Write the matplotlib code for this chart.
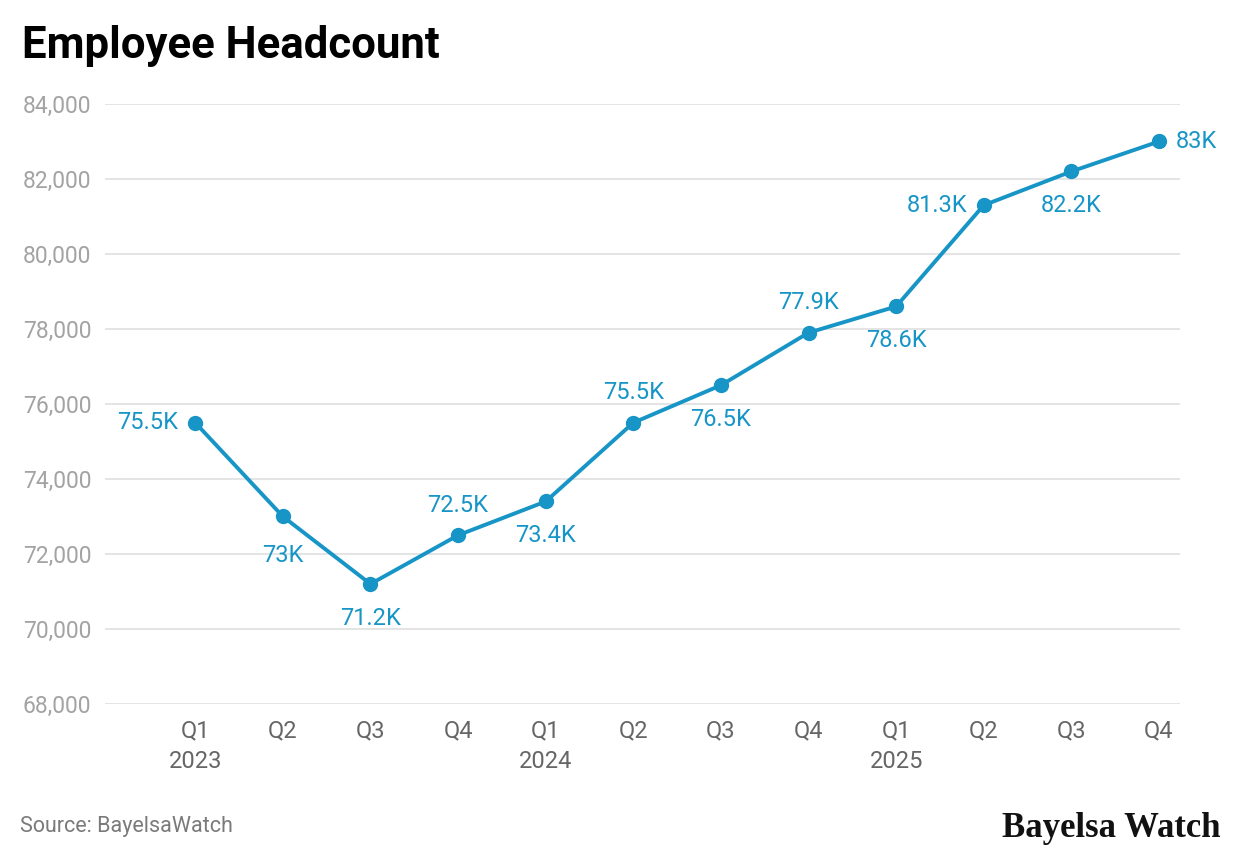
import matplotlib

matplotlib.use("Agg")

import matplotlib.pyplot as plt
from matplotlib.ticker import FuncFormatter

plt.rcParams["font.family"] = ["Roboto", "DejaVu Sans"]

# Data
quarters = ["Q1\n2023", "Q2", "Q3", "Q4", "Q1\n2024", "Q2", "Q3", "Q4",
            "Q1\n2025", "Q2", "Q3", "Q4"]
headcount = [75500, 73000, 71200, 72500, 73400, 75500, 76500, 77900,
             78600, 81300, 82200, 83000]
value_labels = ["75.5K", "73K", "71.2K", "72.5K", "73.4K", "75.5K", "76.5K",
                "77.9K", "78.6K", "81.3K", "82.2K", "83K"]
# where each label sits relative to its point
label_side = ["left", "below", "below", "above", "below", "above", "below",
              "above", "below", "left", "below", "right"]

blue = "#1795c6"

fig = plt.figure(figsize=(12.4, 8.6), dpi=100)
ax = fig.add_axes([0.0847, 0.1814, 0.8669, 0.6977])

x = list(range(len(headcount)))
ax.plot(x, headcount, color=blue, linewidth=2.8, marker="o", markersize=10,
        zorder=3)

for i, (xi, yi, txt, side) in enumerate(zip(x, headcount, value_labels, label_side)):
    if side == "above":
        off, ha = (0, 21.5), "center"
    elif side == "below":
        # the second label is pushed a bit lower so it clears the line
        off, ha = (0, -28 if i == 1 else -24.5), "center"
    elif side == "left":
        off, ha = (-12, 0), "right"
    else:
        off, ha = (12, 0), "left"
    ax.annotate(txt, (xi, yi), xytext=off, textcoords="offset points",
                ha=ha, va="center", fontsize=17, color=blue)

ax.set_ylim(68000, 84000)
ax.set_xlim(-1.03, 11.24)
ax.set_yticks(range(68000, 84001, 2000))
ax.yaxis.set_major_formatter(FuncFormatter(lambda v, p: f"{int(v):,}"))
ax.set_xticks(x)
ax.set_xticklabels(quarters, linespacing=1.45)

ax.grid(axis="y", color="#e2e2e2", linewidth=1.3)
ax.set_axisbelow(True)
for s in ax.spines.values():
    s.set_visible(False)
ax.tick_params(axis="y", length=0, pad=10, labelsize=16.5, labelcolor="#a3a3a3")
ax.tick_params(axis="x", length=0, pad=11, labelsize=17, labelcolor="#666666")

fig.text(0.0175, 0.947, "Employee Headcount", fontsize=31.5, fontweight="bold",
         color="#000000", va="center", ha="left")
fig.text(0.016, 0.039, "Source: BayelsaWatch", fontsize=15.5, color="#7a7a7a",
         va="center", ha="left")
fig.text(0.984, 0.037, "Bayelsa Watch", fontsize=25, fontweight="bold",
         family="Liberation Serif", color="#111111", va="center", ha="right")

fig.savefig("out.png", dpi=100)
